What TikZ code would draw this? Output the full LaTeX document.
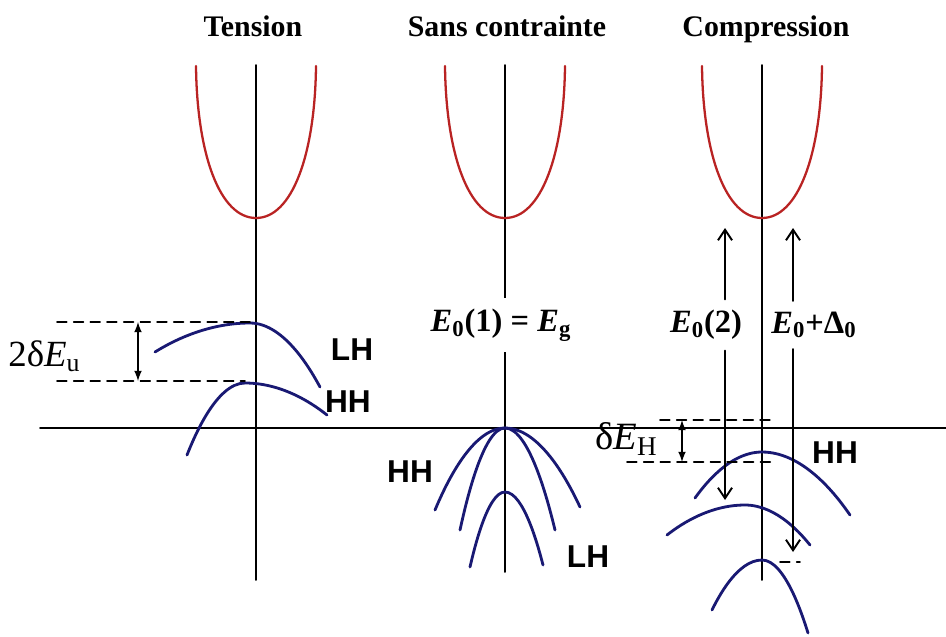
\documentclass[tikz,border=0pt]{standalone}
\usepackage{fontspec}
\setmainfont{Liberation Serif}
\newfontfamily\bandfont{Liberation Sans}
\usetikzlibrary{arrows.meta}
\definecolor{bandred}{RGB}{185,35,35}
\definecolor{bandblue}{RGB}{25,25,115}

\begin{document}
\begin{tikzpicture}[
        x=0.02cm,y=-0.02cm,
        axis/.style={line width=1.1pt},
        cband/.style={bandred,line width=1.3pt},
        vband/.style={bandblue,line width=1.6pt},
        level/.style={line width=1pt,dash pattern=on 5.5pt off 4pt},
        trans/.style={line width=1.1pt,-{Straight Barb[length=6pt,width=8pt]}},
        title/.style={font=\fontsize{17}{20}\selectfont\bfseries,anchor=base},
        bandlbl/.style={font=\bandfont\fontsize{18}{20}\selectfont\bfseries},
        elbl/.style={font=\fontsize{18.5}{20}\selectfont\bfseries,fill=white,inner ysep=6pt,inner xsep=1pt},
        shiftlbl/.style={font=\fontsize{21}{24}\selectfont,anchor=west,inner sep=0pt},
        >=latex,line cap=round,line join=round
    ]
    \useasboundingbox (0,0) rectangle (946,636);
    \node[title] (tension) at (253,36) {Tension};
    \node[title] (libre) at (507,36) {Sans contrainte};
    \node[title] (compr) at (766,36) {Compression};

    % axes
    \draw[axis] (40,428) -- (946,428);
    \foreach \x/\b in {256/580,505/572,762/580}
        \draw[axis] (\x,65) -- (\x,\b);

    % conduction bands
    \foreach \x in {256,505,762}
        \draw[cband] ({\x-60},66) .. controls ({\x-59},155) and ({\x-36},218) .. (\x,218)
            .. controls ({\x+36},218) and ({\x+59},155) .. ({\x+60},66);

    % tension
    \draw[vband] (155,352) parabola bend (250,323) (320,387);
    \draw[vband] (187,455) parabola bend (245,383) (327,415);
    \node[bandlbl] (lhT) at (352,350) {LH};
    \node[bandlbl] (hhT) at (348,402) {HH};
    \coordinate (uTop) at (138,322);
    \coordinate (uBot) at (138,381);
    \draw[level] (57,322) -- (250,322) (57,381) -- (245,381);
    \draw[<->,line width=1pt] (uTop) -- (uBot);
    \node[shiftlbl] (du) at (8,356) {2δ\textit{E}\textsubscript{u}};

    % sans contrainte
    \draw[vband] (435,510) parabola bend (505,428) (580,507);
    \draw[vband] (460,530) parabola bend (505,428) (555,530);
    \draw[vband] (470,567) parabola bend (505,492) (543,565);
    \node[bandlbl] (hhS) at (410,472) {HH};
    \node[bandlbl] (lhS) at (588,557) {LH};
    \node[elbl] (eg) at (501,325) {\textit{E}\textsubscript{0}(1) = \textit{E}\textsubscript{g}};

    % compression
    \draw[vband] (695,498) parabola bend (762,452) (850,515);
    \draw[vband] (667,535) parabola bend (745,505) (810,545);
    \draw[vband] (712,610) parabola bend (762,560) (808,633);
    \node[bandlbl] (hhC) at (835,453) {HH};
    \draw[level] (660,420) -- (770,420) (627,462) -- (772,462) (780,562) -- (800,562);
    \coordinate (hTop) at (682,420);
    \coordinate (hBot) at (682,462);
    \draw[<->,line width=1pt] (hTop) -- (hBot);
    \node[shiftlbl,font=\fontsize{22}{24}\selectfont] (dh) at (595,439) {δ\textit{E}\textsubscript{H}};

    \node[elbl] (e2) at (706,325) {\textit{E}\textsubscript{0}(2)};
    \node[elbl] (eso) at (814,325) {\textit{E}\textsubscript{0}+Δ\textsubscript{0}};
    \coordinate (e2up) at (725,228);
    \coordinate (e2dn) at (725,500);
    \coordinate (esoup) at (793,228);
    \coordinate (esodn) at (793,552);
    \draw[trans] (e2.north -| e2up) -- (e2up);
    \draw[trans] (e2.south -| e2dn) -- (e2dn);
    \draw[trans] (eso.north -| esoup) -- (esoup);
    \draw[trans] (eso.south -| esodn) -- (esodn);
\end{tikzpicture}
\end{document}
